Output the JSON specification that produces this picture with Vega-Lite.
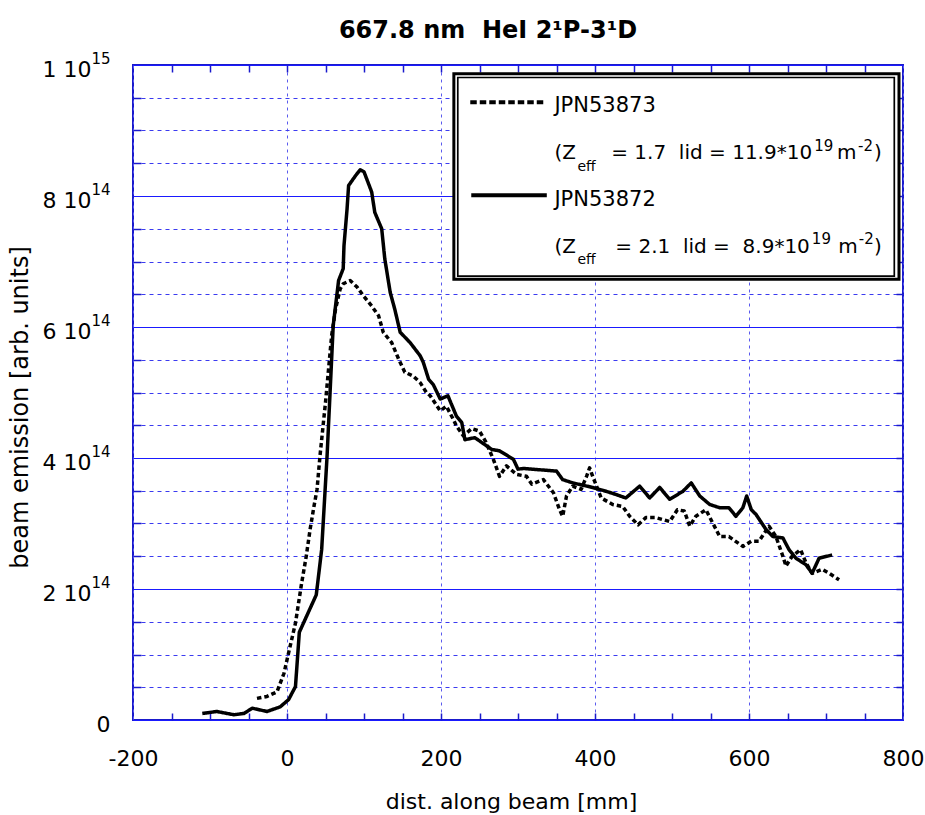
{
  "$schema": "https://vega.github.io/schema/vega-lite/v6.json",
  "width": 770,
  "height": 655,
  "autosize": {"type": "none"},
  "padding": {"left": 133, "top": 65, "right": 22, "bottom": 95},
  "background": "white",
  "title": {"text": "667.8 nm\u00a0 HeI 2¹P-3¹D", "font": "DejaVu Sans", "fontSize": 24, "fontWeight": "bold", "color": "black", "anchor": "middle", "frame": "group", "dx": -30, "dy": 22, "baseline": "alphabetic", "offset": 11},
  "config": {
    "view": {"stroke": "#1a1acc", "strokeWidth": 2},
    "axis": {"labelFont": "DejaVu Sans", "titleFont": "DejaVu Sans", "labelColor": "black", "titleColor": "black", "labelFlush": false, "labelOverlap": false, "titleFontWeight": "normal"}
  },
  "resolve": {"axis": {"x": "independent", "y": "independent"}},
  "layer": [
    {
      "data": {"values": [
        {"series": "JPN53873", "x": -39, "y": 3.3e13}, {"series": "JPN53873", "x": -26, "y": 3.6e13}, {"series": "JPN53873", "x": -13, "y": 4.3e13}, {"series": "JPN53873", "x": -4, "y": 7.1e13},
        {"series": "JPN53873", "x": 2, "y": 1.02e14}, {"series": "JPN53873", "x": 11, "y": 1.48e14}, {"series": "JPN53873", "x": 19, "y": 2.09e14}, {"series": "JPN53873", "x": 25, "y": 2.5e14},
        {"series": "JPN53873", "x": 30, "y": 2.91e14}, {"series": "JPN53873", "x": 35, "y": 3.26e14}, {"series": "JPN53873", "x": 39, "y": 3.52e14}, {"series": "JPN53873", "x": 43, "y": 4.05e14},
        {"series": "JPN53873", "x": 50, "y": 4.85e14}, {"series": "JPN53873", "x": 54, "y": 5.36e14}, {"series": "JPN53873", "x": 58, "y": 5.87e14}, {"series": "JPN53873", "x": 63, "y": 6.27e14},
        {"series": "JPN53873", "x": 69, "y": 6.58e14}, {"series": "JPN53873", "x": 73, "y": 6.66e14}, {"series": "JPN53873", "x": 82, "y": 6.71e14}, {"series": "JPN53873", "x": 91, "y": 6.61e14},
        {"series": "JPN53873", "x": 99, "y": 6.48e14}, {"series": "JPN53873", "x": 110, "y": 6.32e14}, {"series": "JPN53873", "x": 119, "y": 6.17e14}, {"series": "JPN53873", "x": 125, "y": 5.92e14},
        {"series": "JPN53873", "x": 136, "y": 5.76e14}, {"series": "JPN53873", "x": 145, "y": 5.51e14}, {"series": "JPN53873", "x": 153, "y": 5.31e14}, {"series": "JPN53873", "x": 164, "y": 5.25e14},
        {"series": "JPN53873", "x": 173, "y": 5.15e14}, {"series": "JPN53873", "x": 181, "y": 5.0e14}, {"series": "JPN53873", "x": 186, "y": 4.95e14}, {"series": "JPN53873", "x": 199, "y": 4.72e14},
        {"series": "JPN53873", "x": 207, "y": 4.79e14}, {"series": "JPN53873", "x": 216, "y": 4.59e14}, {"series": "JPN53873", "x": 220, "y": 4.49e14}, {"series": "JPN53873", "x": 229, "y": 4.34e14},
        {"series": "JPN53873", "x": 240, "y": 4.45e14}, {"series": "JPN53873", "x": 250, "y": 4.41e14}, {"series": "JPN53873", "x": 258, "y": 4.25e14}, {"series": "JPN53873", "x": 268, "y": 3.98e14},
        {"series": "JPN53873", "x": 276, "y": 3.72e14}, {"series": "JPN53873", "x": 285, "y": 3.88e14}, {"series": "JPN53873", "x": 298, "y": 3.75e14}, {"series": "JPN53873", "x": 311, "y": 3.72e14},
        {"series": "JPN53873", "x": 318, "y": 3.6e14}, {"series": "JPN53873", "x": 333, "y": 3.67e14}, {"series": "JPN53873", "x": 346, "y": 3.47e14}, {"series": "JPN53873", "x": 354, "y": 3.21e14},
        {"series": "JPN53873", "x": 358, "y": 3.11e14}, {"series": "JPN53873", "x": 363, "y": 3.42e14}, {"series": "JPN53873", "x": 371, "y": 3.57e14}, {"series": "JPN53873", "x": 382, "y": 3.52e14},
        {"series": "JPN53873", "x": 389, "y": 3.72e14}, {"series": "JPN53873", "x": 393, "y": 3.85e14}, {"series": "JPN53873", "x": 397, "y": 3.72e14}, {"series": "JPN53873", "x": 408, "y": 3.39e14},
        {"series": "JPN53873", "x": 423, "y": 3.29e14}, {"series": "JPN53873", "x": 436, "y": 3.26e14}, {"series": "JPN53873", "x": 445, "y": 3.11e14}, {"series": "JPN53873", "x": 456, "y": 2.98e14},
        {"series": "JPN53873", "x": 466, "y": 3.09e14}, {"series": "JPN53873", "x": 479, "y": 3.09e14}, {"series": "JPN53873", "x": 497, "y": 3.03e14}, {"series": "JPN53873", "x": 507, "y": 3.21e14},
        {"series": "JPN53873", "x": 516, "y": 3.19e14}, {"series": "JPN53873", "x": 523, "y": 2.96e14}, {"series": "JPN53873", "x": 531, "y": 3.11e14}, {"series": "JPN53873", "x": 544, "y": 3.21e14},
        {"series": "JPN53873", "x": 555, "y": 2.96e14}, {"series": "JPN53873", "x": 562, "y": 2.8e14}, {"series": "JPN53873", "x": 574, "y": 2.8e14}, {"series": "JPN53873", "x": 592, "y": 2.65e14},
        {"series": "JPN53873", "x": 603, "y": 2.73e14}, {"series": "JPN53873", "x": 613, "y": 2.73e14}, {"series": "JPN53873", "x": 626, "y": 2.96e14}, {"series": "JPN53873", "x": 635, "y": 2.8e14},
        {"series": "JPN53873", "x": 644, "y": 2.5e14}, {"series": "JPN53873", "x": 648, "y": 2.35e14}, {"series": "JPN53873", "x": 656, "y": 2.5e14}, {"series": "JPN53873", "x": 667, "y": 2.6e14},
        {"series": "JPN53873", "x": 674, "y": 2.4e14}, {"series": "JPN53873", "x": 682, "y": 2.24e14}, {"series": "JPN53873", "x": 695, "y": 2.3e14}, {"series": "JPN53873", "x": 704, "y": 2.24e14},
        {"series": "JPN53873", "x": 717, "y": 2.14e14},
        {"series": "JPN53872", "x": -110, "y": 1.0e13}, {"series": "JPN53872", "x": -91, "y": 1.3e13}, {"series": "JPN53872", "x": -69, "y": 8e12}, {"series": "JPN53872", "x": -56, "y": 1.0e13},
        {"series": "JPN53872", "x": -45, "y": 1.8e13}, {"series": "JPN53872", "x": -26, "y": 1.3e13}, {"series": "JPN53872", "x": -9, "y": 2.0e13}, {"series": "JPN53872", "x": 2, "y": 3.1e13},
        {"series": "JPN53872", "x": 11, "y": 5.1e13}, {"series": "JPN53872", "x": 16, "y": 1.34e14}, {"series": "JPN53872", "x": 38, "y": 1.91e14}, {"series": "JPN53872", "x": 45, "y": 2.6e14},
        {"series": "JPN53872", "x": 52, "y": 4.02e14}, {"series": "JPN53872", "x": 60, "y": 6.02e14}, {"series": "JPN53872", "x": 67, "y": 6.71e14}, {"series": "JPN53872", "x": 73, "y": 6.89e14},
        {"series": "JPN53872", "x": 74, "y": 7.24e14}, {"series": "JPN53872", "x": 78, "y": 7.8e14}, {"series": "JPN53872", "x": 80, "y": 8.16e14}, {"series": "JPN53872", "x": 89, "y": 8.31e14},
        {"series": "JPN53872", "x": 95, "y": 8.4e14}, {"series": "JPN53872", "x": 100, "y": 8.37e14}, {"series": "JPN53872", "x": 110, "y": 8.06e14}, {"series": "JPN53872", "x": 114, "y": 7.75e14},
        {"series": "JPN53872", "x": 123, "y": 7.5e14}, {"series": "JPN53872", "x": 127, "y": 7.04e14}, {"series": "JPN53872", "x": 134, "y": 6.53e14}, {"series": "JPN53872", "x": 140, "y": 6.27e14},
        {"series": "JPN53872", "x": 147, "y": 5.92e14}, {"series": "JPN53872", "x": 160, "y": 5.76e14}, {"series": "JPN53872", "x": 173, "y": 5.56e14}, {"series": "JPN53872", "x": 177, "y": 5.46e14},
        {"series": "JPN53872", "x": 184, "y": 5.2e14}, {"series": "JPN53872", "x": 190, "y": 5.12e14}, {"series": "JPN53872", "x": 199, "y": 4.9e14}, {"series": "JPN53872", "x": 209, "y": 4.95e14},
        {"series": "JPN53872", "x": 220, "y": 4.64e14}, {"series": "JPN53872", "x": 227, "y": 4.54e14}, {"series": "JPN53872", "x": 231, "y": 4.28e14}, {"series": "JPN53872", "x": 244, "y": 4.31e14},
        {"series": "JPN53872", "x": 266, "y": 4.13e14}, {"series": "JPN53872", "x": 276, "y": 4.11e14}, {"series": "JPN53872", "x": 294, "y": 3.98e14}, {"series": "JPN53872", "x": 300, "y": 3.83e14},
        {"series": "JPN53872", "x": 307, "y": 3.84e14}, {"series": "JPN53872", "x": 350, "y": 3.8e14}, {"series": "JPN53872", "x": 358, "y": 3.67e14}, {"series": "JPN53872", "x": 371, "y": 3.62e14},
        {"series": "JPN53872", "x": 397, "y": 3.55e14}, {"series": "JPN53872", "x": 415, "y": 3.49e14}, {"series": "JPN53872", "x": 428, "y": 3.44e14}, {"series": "JPN53872", "x": 440, "y": 3.39e14},
        {"series": "JPN53872", "x": 458, "y": 3.57e14}, {"series": "JPN53872", "x": 471, "y": 3.39e14}, {"series": "JPN53872", "x": 484, "y": 3.55e14}, {"series": "JPN53872", "x": 497, "y": 3.37e14},
        {"series": "JPN53872", "x": 514, "y": 3.49e14}, {"series": "JPN53872", "x": 525, "y": 3.62e14}, {"series": "JPN53872", "x": 536, "y": 3.42e14}, {"series": "JPN53872", "x": 549, "y": 3.29e14},
        {"series": "JPN53872", "x": 562, "y": 3.24e14}, {"series": "JPN53872", "x": 574, "y": 3.24e14}, {"series": "JPN53872", "x": 583, "y": 3.11e14}, {"series": "JPN53872", "x": 592, "y": 3.24e14},
        {"series": "JPN53872", "x": 597, "y": 3.42e14}, {"series": "JPN53872", "x": 603, "y": 3.21e14}, {"series": "JPN53872", "x": 609, "y": 3.14e14}, {"series": "JPN53872", "x": 622, "y": 2.91e14},
        {"series": "JPN53872", "x": 631, "y": 2.8e14}, {"series": "JPN53872", "x": 644, "y": 2.78e14}, {"series": "JPN53872", "x": 652, "y": 2.6e14}, {"series": "JPN53872", "x": 661, "y": 2.47e14},
        {"series": "JPN53872", "x": 674, "y": 2.37e14}, {"series": "JPN53872", "x": 682, "y": 2.24e14}, {"series": "JPN53872", "x": 691, "y": 2.47e14}, {"series": "JPN53872", "x": 708, "y": 2.52e14}
      ]},
      "mark": {"type": "line", "color": "black", "strokeWidth": 3.5, "strokeCap": "butt", "strokeJoin": "round"},
      "encoding": {
        "x": {"field": "x", "type": "quantitative", "scale": {"domain": [-200, 800]},
          "axis": {"orient": "bottom", "values": [-200, 0, 200, 400, 600, 800], "labelExpr": "'' + datum.value", "labelFontSize": 22, "labelPadding": 45, "labelBaseline": "alphabetic", "ticks": false, "domain": false,
            "grid": true, "gridColor": "#5a5aee", "gridDash": [3, 4], "gridWidth": 1,
            "title": "dist. along beam [mm]", "titleFontSize": 22, "titleX": 378, "titleY": 88, "titleBaseline": "alphabetic", "titleAlign": "center"}},
        "y": {"field": "y", "type": "quantitative", "scale": {"domain": [0, 1e15]},
          "axis": {"orient": "left", "values": [0, 2e14, 4e14, 6e14, 8e14, 1e15], "labelExpr": "datum.value == 0 ? '' : ((datum.value >= 9e14 ? '1' : '' + round(datum.value / 1e14)) + ' 10')",
            "labelFontSize": 22, "labelPadding": 42, "labelBaseline": "alphabetic", "labelOffset": 11, "labelAlign": "right", "ticks": false, "domain": false,
            "grid": true, "gridColor": "#1a1aff", "gridWidth": 1,
            "title": "beam emission [arb. units]", "titleFontSize": 24, "titleX": -106, "titleY": 342, "titleAngle": 270, "titleBaseline": "alphabetic", "titleAlign": "center"}},
        "strokeDash": {"field": "series", "type": "nominal", "scale": {"domain": ["JPN53873", "JPN53872"], "range": [[4.5, 3], [1, 0]]}, "legend": null}
      }
    },
    {
      "data": {"values": [{}]},
      "mark": {"type": "rect", "fill": "white", "stroke": "black", "strokeWidth": 3},
      "encoding": {
        "x": {"datum": 216.7, "type": "quantitative", "scale": {"domain": [-200, 800]},
          "axis": {"orient": "bottom", "values": [-150, -100, -50, 0, 50, 100, 150, 200, 250, 300, 350, 400, 450, 500, 550, 600, 650, 700, 750], "ticks": true, "tickSize": -7, "tickColor": "#1a1acc", "tickWidth": 1.5, "labels": false, "domain": false, "grid": false, "title": null}},
        "x2": {"datum": 794.8},
        "y": {"datum": 9.867e14, "type": "quantitative", "scale": {"domain": [0, 1e15]},
          "axis": {"orient": "left", "values": [0, 2e14, 4e14, 6e14, 8e14, 1e15], "labelExpr": "datum.value == 0 ? '0' : (datum.value >= 9e14 ? '15' : '14')",
            "labelFontSize": {"condition": {"test": "datum.value == 0", "value": 22}, "value": 15},
            "labelOffset": {"condition": {"test": "datum.value == 0", "value": 11}, "value": -2},
            "labelPadding": 23, "labelBaseline": "alphabetic", "labelAlign": "right", "ticks": false, "domain": false, "grid": false, "title": null}},
        "y2": {"datum": 6.728e14}
      }
    },
    {
      "data": {"values": [{}]},
      "mark": {"type": "rect", "fill": "white", "fillOpacity": 0, "stroke": "black", "strokeWidth": 1.7},
      "encoding": {
        "x": {"datum": 221.8, "type": "quantitative", "scale": {"domain": [-200, 800]},
          "axis": {"orient": "top", "values": [-150, -100, -50, 0, 50, 100, 150, 200, 250, 300, 350, 400, 450, 500, 550, 600, 650, 700, 750], "ticks": true, "tickSize": -7, "tickColor": "#1a1acc", "tickWidth": 1.5, "labels": false, "domain": false, "grid": false, "title": null}},
        "x2": {"datum": 788.7},
        "y": {"datum": 9.809e14, "type": "quantitative", "scale": {"domain": [0, 1e15]},
          "axis": {"orient": "left", "values": [5e13, 1e14, 1.5e14, 2.5e14, 3e14, 3.5e14, 4.5e14, 5e14, 5.5e14, 6.5e14, 7e14, 7.5e14, 8.5e14, 9e14, 9.5e14],
            "ticks": true, "tickSize": -8, "tickColor": "#1a1acc", "tickWidth": 1.5, "labels": false, "domain": false,
            "grid": true, "gridColor": "#3b3bf0", "gridDash": [4, 4], "gridWidth": 1, "title": null}},
        "y2": {"datum": 6.778e14}
      }
    },
    {
      "data": {"values": [{}]},
      "mark": {"type": "rule", "color": "black", "strokeWidth": 4, "strokeDash": [6.5, 3]},
      "encoding": {
        "x": {"datum": 238, "type": "quantitative", "scale": {"domain": [-200, 800]}, "axis": null},
        "x2": {"datum": 335.7},
        "y": {"datum": 9.43e14, "type": "quantitative", "scale": {"domain": [0, 1e15]},
          "axis": {"orient": "right", "values": [5e13, 1e14, 1.5e14, 2e14, 2.5e14, 3e14, 3.5e14, 4e14, 4.5e14, 5e14, 5.5e14, 6e14, 6.5e14, 7e14, 7.5e14, 8e14, 8.5e14, 9e14, 9.5e14],
            "ticks": true, "tickSize": -7, "tickColor": "#1a1acc", "tickWidth": 1.5, "labels": false, "domain": false, "grid": false, "title": null}}
      }
    },
    {
      "data": {"values": [{}]},
      "mark": {"type": "rule", "color": "black", "strokeWidth": 4},
      "encoding": {
        "x": {"datum": 239.3, "type": "quantitative", "scale": {"domain": [-200, 800]}, "axis": null},
        "x2": {"datum": 337.4},
        "y": {"datum": 8.012e14, "type": "quantitative", "scale": {"domain": [0, 1e15]}, "axis": null}
      }
    },
    {"data": {"values": [{}]}, "mark": {"type": "text", "font": "DejaVu Sans", "fontSize": 21, "align": "left", "baseline": "alphabetic", "color": "black"},
      "encoding": {"x": {"datum": 347.3, "type": "quantitative", "scale": {"domain": [-200, 800]}, "axis": null}, "y": {"datum": 9.277e14, "type": "quantitative", "scale": {"domain": [0, 1e15]}, "axis": null}, "text": {"value": "JPN53873"}}},
    {"data": {"values": [{}]}, "mark": {"type": "text", "font": "DejaVu Sans", "fontSize": 21, "align": "left", "baseline": "alphabetic", "color": "black"},
      "encoding": {"x": {"datum": 347.3, "type": "quantitative", "scale": {"domain": [-200, 800]}, "axis": null}, "y": {"datum": 7.849e14, "type": "quantitative", "scale": {"domain": [0, 1e15]}, "axis": null}, "text": {"value": "JPN53872"}}},
    {"data": {"values": [{}]}, "mark": {"type": "text", "font": "DejaVu Sans", "fontSize": 20, "align": "left", "baseline": "alphabetic", "color": "black"},
      "encoding": {"x": {"datum": 347.3, "type": "quantitative", "scale": {"domain": [-200, 800]}, "axis": null}, "y": {"datum": 8.563e14, "type": "quantitative", "scale": {"domain": [0, 1e15]}, "axis": null}, "text": {"value": "(Z"}}},
    {"data": {"values": [{}]}, "mark": {"type": "text", "font": "DejaVu Sans", "fontSize": 14, "align": "left", "baseline": "alphabetic", "color": "black"},
      "encoding": {"x": {"datum": 377.2, "type": "quantitative", "scale": {"domain": [-200, 800]}, "axis": null}, "y": {"datum": 8.384e14, "type": "quantitative", "scale": {"domain": [0, 1e15]}, "axis": null}, "text": {"value": "eff"}}},
    {"data": {"values": [{}]}, "mark": {"type": "text", "font": "DejaVu Sans", "fontSize": 20, "align": "right", "baseline": "alphabetic", "color": "black"},
      "encoding": {"x": {"datum": 682, "type": "quantitative", "scale": {"domain": [-200, 800]}, "axis": null}, "y": {"datum": 8.563e14, "type": "quantitative", "scale": {"domain": [0, 1e15]}, "axis": null}, "text": {"value": "= 1.7\u00a0 lid = 11.9*10"}}},
    {"data": {"values": [{}]}, "mark": {"type": "text", "font": "DejaVu Sans", "fontSize": 15, "align": "left", "baseline": "alphabetic", "color": "black"},
      "encoding": {"x": {"datum": 684.6, "type": "quantitative", "scale": {"domain": [-200, 800]}, "axis": null}, "y": {"datum": 8.69e14, "type": "quantitative", "scale": {"domain": [0, 1e15]}, "axis": null}, "text": {"value": "19"}}},
    {"data": {"values": [{}]}, "mark": {"type": "text", "font": "DejaVu Sans", "fontSize": 20, "align": "left", "baseline": "alphabetic", "color": "black"},
      "encoding": {"x": {"datum": 714.4, "type": "quantitative", "scale": {"domain": [-200, 800]}, "axis": null}, "y": {"datum": 8.563e14, "type": "quantitative", "scale": {"domain": [0, 1e15]}, "axis": null}, "text": {"value": "m"}}},
    {"data": {"values": [{}]}, "mark": {"type": "text", "font": "DejaVu Sans", "fontSize": 15, "align": "left", "baseline": "alphabetic", "color": "black"},
      "encoding": {"x": {"datum": 741.6, "type": "quantitative", "scale": {"domain": [-200, 800]}, "axis": null}, "y": {"datum": 8.69e14, "type": "quantitative", "scale": {"domain": [0, 1e15]}, "axis": null}, "text": {"value": "-2"}}},
    {"data": {"values": [{}]}, "mark": {"type": "text", "font": "DejaVu Sans", "fontSize": 20, "align": "left", "baseline": "alphabetic", "color": "black"},
      "encoding": {"x": {"datum": 762.4, "type": "quantitative", "scale": {"domain": [-200, 800]}, "axis": null}, "y": {"datum": 8.563e14, "type": "quantitative", "scale": {"domain": [0, 1e15]}, "axis": null}, "text": {"value": ")"}}},
    {"data": {"values": [{}]}, "mark": {"type": "text", "font": "DejaVu Sans", "fontSize": 20, "align": "left", "baseline": "alphabetic", "color": "black"},
      "encoding": {"x": {"datum": 347.3, "type": "quantitative", "scale": {"domain": [-200, 800]}, "axis": null}, "y": {"datum": 7.136e14, "type": "quantitative", "scale": {"domain": [0, 1e15]}, "axis": null}, "text": {"value": "(Z"}}},
    {"data": {"values": [{}]}, "mark": {"type": "text", "font": "DejaVu Sans", "fontSize": 14, "align": "left", "baseline": "alphabetic", "color": "black"},
      "encoding": {"x": {"datum": 377.2, "type": "quantitative", "scale": {"domain": [-200, 800]}, "axis": null}, "y": {"datum": 6.957e14, "type": "quantitative", "scale": {"domain": [0, 1e15]}, "axis": null}, "text": {"value": "eff"}}},
    {"data": {"values": [{}]}, "mark": {"type": "text", "font": "DejaVu Sans", "fontSize": 20, "align": "right", "baseline": "alphabetic", "color": "black"},
      "encoding": {"x": {"datum": 679, "type": "quantitative", "scale": {"domain": [-200, 800]}, "axis": null}, "y": {"datum": 7.136e14, "type": "quantitative", "scale": {"domain": [0, 1e15]}, "axis": null}, "text": {"value": "= 2.1\u00a0 lid =\u00a0 8.9*10"}}},
    {"data": {"values": [{}]}, "mark": {"type": "text", "font": "DejaVu Sans", "fontSize": 15, "align": "left", "baseline": "alphabetic", "color": "black"},
      "encoding": {"x": {"datum": 681.6, "type": "quantitative", "scale": {"domain": [-200, 800]}, "axis": null}, "y": {"datum": 7.263e14, "type": "quantitative", "scale": {"domain": [0, 1e15]}, "axis": null}, "text": {"value": "19"}}},
    {"data": {"values": [{}]}, "mark": {"type": "text", "font": "DejaVu Sans", "fontSize": 20, "align": "left", "baseline": "alphabetic", "color": "black"},
      "encoding": {"x": {"datum": 716, "type": "quantitative", "scale": {"domain": [-200, 800]}, "axis": null}, "y": {"datum": 7.136e14, "type": "quantitative", "scale": {"domain": [0, 1e15]}, "axis": null}, "text": {"value": "m"}}},
    {"data": {"values": [{}]}, "mark": {"type": "text", "font": "DejaVu Sans", "fontSize": 15, "align": "left", "baseline": "alphabetic", "color": "black"},
      "encoding": {"x": {"datum": 742.6, "type": "quantitative", "scale": {"domain": [-200, 800]}, "axis": null}, "y": {"datum": 7.263e14, "type": "quantitative", "scale": {"domain": [0, 1e15]}, "axis": null}, "text": {"value": "-2"}}},
    {"data": {"values": [{}]}, "mark": {"type": "text", "font": "DejaVu Sans", "fontSize": 20, "align": "left", "baseline": "alphabetic", "color": "black"},
      "encoding": {"x": {"datum": 762.4, "type": "quantitative", "scale": {"domain": [-200, 800]}, "axis": null}, "y": {"datum": 7.136e14, "type": "quantitative", "scale": {"domain": [0, 1e15]}, "axis": null}, "text": {"value": ")"}}}
  ]
}
